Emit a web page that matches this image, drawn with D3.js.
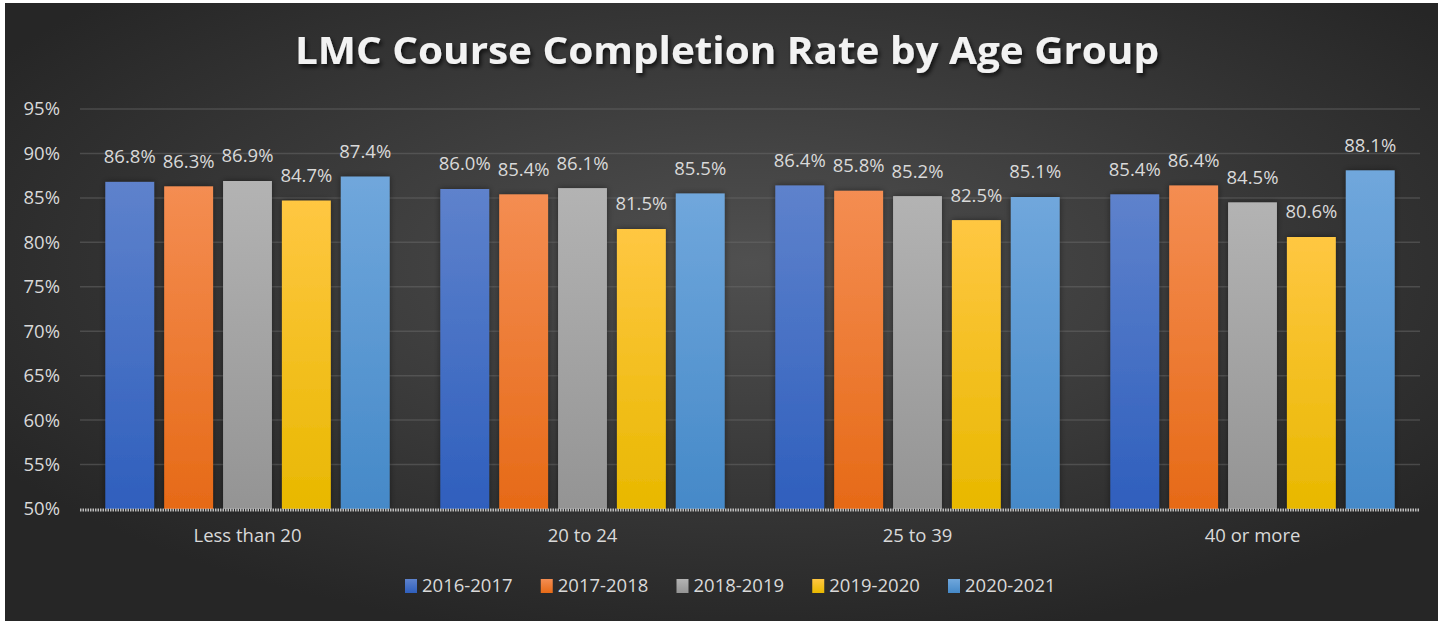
<!DOCTYPE html>
<html><head><meta charset="utf-8">
<script src="https://cdn.jsdelivr.net/npm/d3@7"></script>
<style>html,body{margin:0;padding:0;background:#fff;}svg{display:block;}</style>
</head><body>
<script>
const categories = ["Less than 20", "20 to 24", "25 to 39", "40 or more"];
const seriesNames = ["2016-2017", "2017-2018", "2018-2019", "2019-2020", "2020-2021"];
const s2016 = [86.8, 86.0, 86.4, 85.4];
const s2017 = [86.3, 85.4, 85.8, 86.4];
const s2018 = [86.9, 86.1, 85.2, 84.5];
const s2019 = [84.7, 81.5, 82.5, 80.6];
const s2020 = [87.4, 85.5, 85.1, 88.1];
const yTicks = [50, 55, 60, 65, 70, 75, 80, 85, 90, 95];
const titleText = "LMC Course Completion Rate by Age Group";

const seriesValues = [s2016, s2017, s2018, s2019, s2020];
const colorsTop = ["#5e82cc", "#f48d52", "#b3b3b3", "#ffc742", "#70a7dc"];
const colorsBot = ["#2f5fbd", "#e66a17", "#949494", "#e8b800", "#4589c8"];

const W = 1438, H = 621;
const svg = d3.select("body").append("svg").attr("width", W).attr("height", H);
const defs = svg.append("defs");

const bg = defs.append("radialGradient").attr("id", "bg").attr("cx", "0.52").attr("cy", "0.42").attr("r", "0.62");
bg.append("stop").attr("offset", "0").attr("stop-color", "#505050");
bg.append("stop").attr("offset", "1").attr("stop-color", "#262626");

seriesNames.forEach((n, i) => {
  const g = defs.append("linearGradient").attr("id", "g" + i).attr("x1", 0).attr("y1", 0).attr("x2", 0).attr("y2", 1);
  g.append("stop").attr("offset", 0).attr("stop-color", colorsTop[i]);
  g.append("stop").attr("offset", 1).attr("stop-color", colorsBot[i]);
});

const sh = defs.append("filter").attr("id", "barsh").attr("x", "-30%").attr("y", "-10%").attr("width", "160%").attr("height", "120%");
sh.append("feDropShadow").attr("dx", 0).attr("dy", 0).attr("stdDeviation", 3).attr("flood-color", "#000").attr("flood-opacity", 0.45);
const tsh = defs.append("filter").attr("id", "tsh").attr("x", "-10%").attr("y", "-30%").attr("width", "120%").attr("height", "160%");
tsh.append("feDropShadow").attr("dx", 2).attr("dy", 3).attr("stdDeviation", 2).attr("flood-color", "#000").attr("flood-opacity", 0.7);

svg.append("rect").attr("x", 5).attr("y", 3).attr("width", W - 5).attr("height", H - 3).attr("fill", "url(#bg)");

const plot = {left: 80, right: 1420, top: 109, bottom: 509};
const x0 = d3.scaleBand().domain(categories).range([plot.left, plot.right]).paddingInner(0).paddingOuter(0);
const x1 = d3.scaleBand().domain(seriesNames).range([0, x0.bandwidth()]).paddingInner(0.17).paddingOuter(0.43);
const y = d3.scaleLinear().domain([50, 95]).range([plot.bottom, plot.top]);

const font = "'Open Sans', 'Noto Sans', sans-serif";
const txtCol = "#d9d9d9";
const fs = 18.5;

// gridlines
const grid = svg.append("g");
grid.selectAll("line").data(yTicks.filter(t => t > 50)).join("line")
  .attr("x1", plot.left).attr("x2", plot.right)
  .attr("y1", d => y(d)).attr("y2", d => y(d))
  .attr("stroke", "#6a6a6a").attr("stroke-opacity", 0.5).attr("stroke-width", 1.5);

// y axis
const yAxis = d3.axisLeft(y).tickValues(yTicks).tickFormat(d => d + "%").tickSize(0).tickPadding(0);
const ya = svg.append("g").attr("transform", `translate(${plot.left - 20},0)`).call(yAxis);
ya.select(".domain").remove();
ya.selectAll("text").attr("fill", txtCol).attr("font-family", font).attr("font-size", fs);

// bars
const groups = svg.append("g").selectAll("g").data(categories).join("g")
  .attr("transform", d => `translate(${x0(d)},0)`);
groups.each(function(cat, ci) {
  const g = d3.select(this);
  const data = seriesNames.map((s, si) => ({s, si, v: seriesValues[si][ci]}));
  g.selectAll("rect").data(data).join("rect")
    .attr("x", d => x1(d.s)).attr("width", x1.bandwidth())
    .attr("y", d => y(d.v)).attr("height", d => y(50) - y(d.v))
    .attr("fill", d => `url(#g${d.si})`).attr("filter", "url(#barsh)");
  g.selectAll("text").data(data).join("text")
    .attr("x", d => x1(d.s) + x1.bandwidth() / 2)
    .attr("y", d => y(d.v) - 25)
    .attr("dy", "0.35em")
    .attr("text-anchor", "middle")
    .attr("fill", txtCol).attr("font-family", font).attr("font-size", fs)
    .text(d => d.v.toFixed(1) + "%");
});

// baseline
svg.append("line").attr("x1", plot.left).attr("x2", plot.right).attr("y1", plot.bottom + 1).attr("y2", plot.bottom + 1)
  .attr("stroke", "#bdbdbd").attr("stroke-width", 3).attr("stroke-dasharray", "1.5,1");

// x axis
const xAxis = d3.axisBottom(x0).tickSize(0).tickPadding(0);
const xa = svg.append("g").attr("transform", `translate(0,${plot.bottom + 27})`).call(xAxis);
xa.select(".domain").remove();
xa.selectAll("text").attr("fill", txtCol).attr("font-family", font).attr("font-size", fs).attr("dy", "0.35em");

// title
svg.append("text").attr("x", 727).attr("y", 51).attr("dy", "0.35em").attr("text-anchor", "middle")
  .attr("fill", "#f2f2f2").attr("font-family", font).attr("font-weight", 700).attr("font-size", 38)
  .attr("textLength", 864).attr("lengthAdjust", "spacingAndGlyphs")
  .attr("filter", "url(#tsh)").text(titleText);

// legend
const legX = d3.scalePoint().domain(seriesNames).range([405, 948]);
const leg = svg.append("g").selectAll("g").data(seriesNames).join("g")
  .attr("transform", d => `translate(${legX(d)},579)`);
leg.append("rect").attr("width", 12).attr("height", 14).attr("fill", (d, i) => `url(#g${i})`);
leg.append("text").attr("x", 17).attr("y", 7).attr("dy", "0.35em")
  .attr("fill", txtCol).attr("font-family", font).attr("font-size", fs).text(d => d);
</script>
</body></html>
